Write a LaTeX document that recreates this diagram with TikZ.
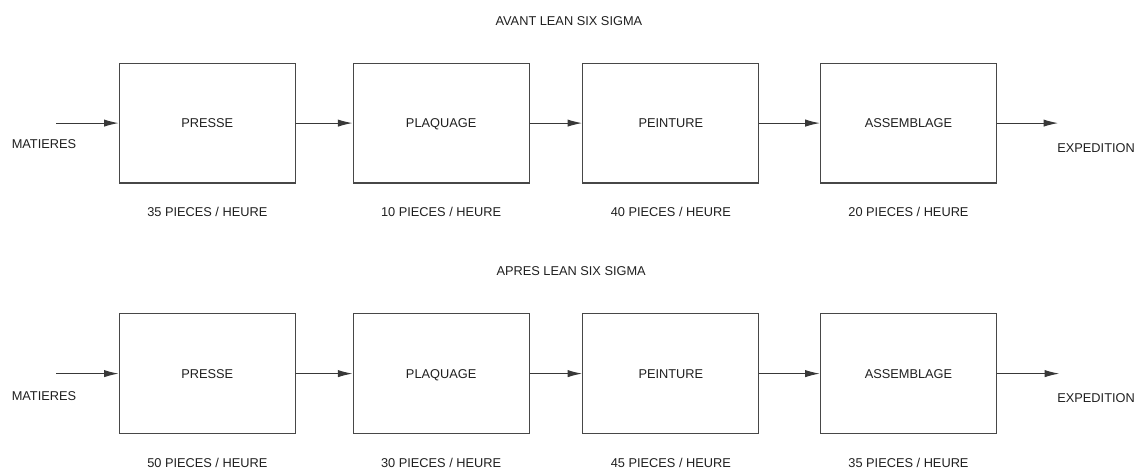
\documentclass[tikz,border=0pt]{standalone}
\usepackage{fontspec}
\setmainfont{Liberation Sans}
\usepackage{tikz}
\usetikzlibrary{arrows.meta}

\tikzset{
    poste/.style={draw=black!72, line width=0.8pt, minimum width=4.65cm, minimum height=3.16cm, inner sep=0pt},
    fleche/.style={draw=black!78, line width=0.8pt, -{Latex[length=11pt,width=5.5pt]}},
    texte/.style={inner sep=0pt, text height=7pt, text depth=0pt, text=black!88, font=\fontsize{9.6}{11.5}\selectfont}
}

\begin{document}
\begin{tikzpicture}[every node/.append style={texte}]
        \useasboundingbox (0,0) rectangle (30,12.348);
        \node (titreav) at (15.01,11.79) {AVANT LEAN SIX SIGMA};
        \node (titreap) at (15.07,5.20) {APRES LEAN SIX SIGMA};
        \foreach \i/\x/\nom in {1/5.47/PRESSE, 2/11.64/PLAQUAGE, 3/17.70/PEINTURE, 4/23.97/ASSEMBLAGE}
        {
        \node[poste] (av\i) at (\x,9.10) {\nom};
        \node[poste] (ap\i) at (\x,2.49) {\nom};
        }
        \foreach \i/\r in {1/35, 2/10, 3/40, 4/20}
        \node (dav\i) at ([yshift=-0.74cm]av\i.south) {\r\ PIECES / HEURE};
        \foreach \i/\r in {1/50, 2/30, 3/45, 4/35}
        \node (dap\i) at ([yshift=-0.76cm]ap\i.south) {\r\ PIECES / HEURE};
        \foreach \i/\j in {1/2, 2/3, 3/4}
        {
        \draw[fleche] (av\i) -- (av\j);
        \draw[fleche] (ap\i) -- (ap\j);
        }
        \coordinate (entav) at (1.48,9.10);
        \coordinate (entap) at (1.48,2.49);
        \coordinate (sorav) at (27.92,9.10);
        \coordinate (sorap) at (27.95,2.49);
        \draw[fleche] (entav) -- (av1);
        \draw[fleche] (entap) -- (ap1);
        \draw[fleche] (av4) -- (sorav);
        \draw[fleche] (ap4) -- (sorap);
        \node (matav) at (1.16,8.55) {MATIERES};
        \node (matap) at (1.16,1.90) {MATIERES};
        \node (expav) at (28.92,8.44) {EXPEDITION};
        \node (expap) at (28.92,1.85) {EXPEDITION};
    \end{tikzpicture}
\end{document}
